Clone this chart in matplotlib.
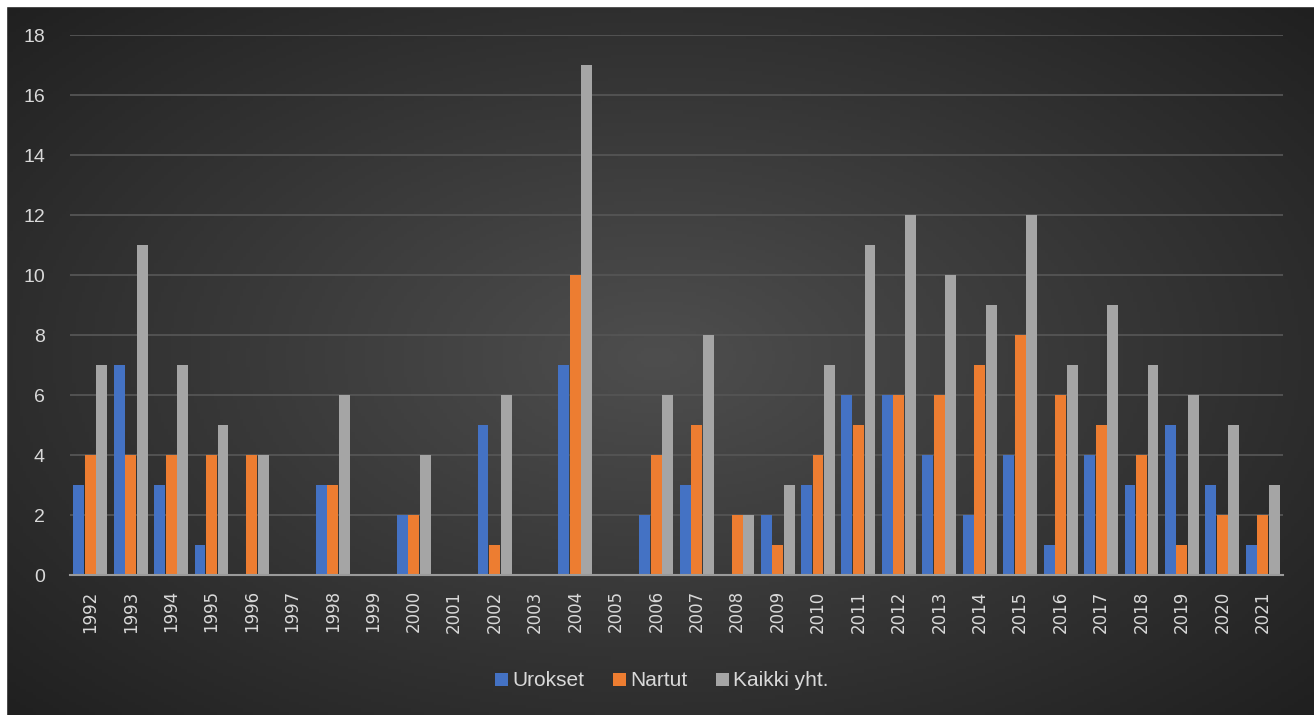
import numpy as np
import matplotlib
matplotlib.use("Agg")
import matplotlib.pyplot as plt
from matplotlib.patches import Rectangle

years = [str(y) for y in range(1992, 2022)]
urokset = [3, 7, 3, 1, 0, 0, 3, 0, 2, 0, 5, 0, 7, 0, 2, 3, 0, 2, 3, 6, 6, 4, 2, 4, 1, 4, 3, 5, 3, 1]
nartut = [4, 4, 4, 4, 4, 0, 3, 0, 2, 0, 1, 0, 10, 0, 4, 5, 2, 1, 4, 5, 6, 6, 7, 8, 6, 5, 4, 1, 2, 2]
kaikki = [7, 11, 7, 5, 4, 0, 6, 0, 4, 0, 6, 0, 17, 0, 6, 8, 2, 3, 7, 11, 12, 10, 9, 12, 7, 9, 7, 6, 5, 3]
series_names = ["Urokset", "Nartut", "Kaikki yht."]
colors = ["#4472C4", "#ED7D31", "#A5A5A5"]

W, H = 1314, 715
fig = plt.figure(figsize=(W / 100, H / 100), dpi=100)
fig.patch.set_facecolor("#202020")

# dark radial background panel
bg = fig.add_axes([0, 0, 1, 1], zorder=0)
gx, gy = np.meshgrid(np.linspace(-1, 1, 400), np.linspace(-1, 1, 220))
r = np.clip(np.sqrt((gx * 0.95) ** 2 + (gy * 0.9) ** 2) / 1.3, 0, 1)
inner = np.array([0x4e, 0x4e, 0x4e]) / 255
outer = np.array([0x20, 0x20, 0x20]) / 255
img = inner[None, None, :] * (1 - r[..., None]) + outer[None, None, :] * r[..., None]
bg.imshow(img, aspect="auto", extent=[0, 1, 0, 1])
bg.set_xlim(0, 1)
bg.set_ylim(0, 1)
bg.axis("off")
# white strip at top and left
fig.patches.append(Rectangle((0, 0), 6 / W, 1, transform=fig.transFigure, color="white", zorder=5))
fig.patches.append(Rectangle((0, 1 - 6 / H), 1, 6 / H, transform=fig.transFigure, color="white", zorder=5))

ax = fig.add_axes([70 / W, 1 - 575 / H, (1283 - 70) / W, (575 - 35) / H], zorder=1)
ax.set_facecolor("none")

x = np.arange(len(years))
bw = 0.27
step = 0.285
for i, (vals, name, c) in enumerate(zip([urokset, nartut, kaikki], series_names, colors)):
    ax.bar(x + (i - 1) * step, vals, width=bw, color=c, label=name, zorder=3)

ax.set_xlim(-0.5, len(years) - 0.5)
ax.set_ylim(0, 18)
ax.set_yticks(range(0, 19, 2))
ax.set_xticks(x)
ax.set_xticklabels(years, rotation=90)
ax.grid(axis="y", color="#555555", linewidth=1.3, zorder=0)
ax.set_axisbelow(True)
for s in ["top", "right", "left"]:
    ax.spines[s].set_visible(False)
ax.spines["bottom"].set_color("#9a9a9a")
ax.spines["bottom"].set_linewidth(1.5)
ax.spines["bottom"].set_zorder(4)
ax.tick_params(axis="y", length=0, pad=18, labelsize=14, labelcolor="#d9d9d9")
ax.tick_params(axis="x", length=0, pad=11, labelsize=12, labelcolor="#d9d9d9")
for lab in ax.get_yticklabels():
    lab.set_family("Liberation Sans")

leg = fig.legend(loc="center", bbox_to_anchor=(662 / W, 1 - 681 / H), ncol=3, frameon=False,
                 handlelength=0.6, handleheight=0.6, handletextpad=0.2, columnspacing=1.4,
                 prop={"family": "Liberation Sans", "size": 15})
for t in leg.get_texts():
    t.set_color("#d9d9d9")

fig.savefig("out.png", dpi=100, facecolor=fig.get_facecolor())
